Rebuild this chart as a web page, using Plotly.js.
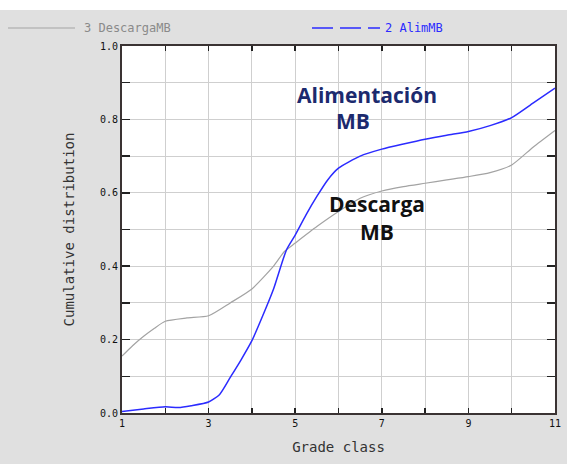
<!DOCTYPE html>
<html>
<head>
<meta charset="utf-8">
<script src="https://cdn.plot.ly/plotly-3.0.1.min.js"></script>
<style>html,body{margin:0;padding:0;background:#fff;}#chart{width:567px;height:464px;}</style>
</head>
<body>
<div id="chart"></div>
<script>
// ---- data ----
const descargaX = [1, 1.25, 1.5, 1.75, 2, 2.5, 3, 3.5, 4, 4.5, 4.75, 5, 5.5, 6, 6.5, 7, 7.5, 8, 8.5, 9, 9.5, 10, 10.5, 11];
const descargaY = [0.155, 0.184, 0.209, 0.231, 0.25, 0.259, 0.265, 0.30, 0.338, 0.400, 0.44, 0.463, 0.508, 0.549, 0.585, 0.605, 0.617, 0.626, 0.635, 0.644, 0.655, 0.676, 0.725, 0.77];
const alimX = [1, 1.5, 2, 2.3, 2.6, 3, 3.25, 3.5, 3.75, 4, 4.25, 4.5, 4.8, 5, 5.25, 5.5, 5.75, 6, 6.5, 7, 7.5, 8, 8.5, 9, 9.5, 10, 10.5, 11];
const alimY = [0.004, 0.011, 0.017, 0.015, 0.02, 0.03, 0.05, 0.097, 0.145, 0.197, 0.265, 0.338, 0.445, 0.485, 0.54, 0.59, 0.635, 0.667, 0.70, 0.719, 0.733, 0.746, 0.757, 0.767, 0.783, 0.805, 0.845, 0.885];
const xTickVals = [1, 2, 3, 4, 5, 6, 7, 8, 9, 10, 11];
const xTickText = ['1', '', '3', '', '5', '', '7', '', '9', '', '11'];
const yTickVals = [0, 0.1, 0.2, 0.3, 0.4, 0.5, 0.6, 0.7, 0.8, 0.9, 1.0];
const yTickText = ['0.0', '', '0.2', '', '0.4', '', '0.6', '', '0.8', '', '1.0'];
const legendNames = ['3 DescargaMB', '2 AlimMB'];

// ---- layout geometry ----
const W = 567, H = 464, L = 122, R = 12, T = 46, B = 51;
const PW = W - L - R, PH = H - T - B;
const px = x => (x - L) / PW;
const py = y => (H - B - y) / PH;

const mono = 'DejaVu Sans Mono, monospace';
const sans = 'Open Sans, Lato, sans-serif';

const traces = [
  {x: descargaX, y: descargaY, type: 'scatter', mode: 'lines', name: legendNames[0],
   line: {color: '#a3a3a3', width: 1.2, shape: 'spline', smoothing: 0.6}, showlegend: false},
  {x: alimX, y: alimY, type: 'scatter', mode: 'lines', name: legendNames[1],
   line: {color: '#2b2bff', width: 1.5, shape: 'spline', smoothing: 0.6}, showlegend: false}
];

const layout = {
  width: W, height: H,
  margin: {l: L, r: R, t: T, b: B, pad: 0},
  paper_bgcolor: '#e0e0e0',
  plot_bgcolor: '#ffffff',
  showlegend: false,
  xaxis: {
    range: [1, 11], tickmode: 'array', tickvals: xTickVals, ticktext: xTickText,
    ticks: 'inside', ticklen: 5, tickcolor: '#222', tickwidth: 1.5,
    showline: true, linecolor: '#3a3333', linewidth: 2, mirror: 'ticks',
    showgrid: true, gridcolor: '#cfcfcf', gridwidth: 1, zeroline: false,
    tickfont: {family: mono, size: 10, color: '#111'},
    title: {text: 'Grade class', font: {family: mono, size: 14, color: '#333'}, standoff: 14}
  },
  yaxis: {
    range: [0, 1], tickmode: 'array', tickvals: yTickVals, ticktext: yTickText,
    ticks: 'inside', ticklen: 8, tickcolor: '#222', tickwidth: 1.5,
    showline: true, linecolor: '#3a3333', linewidth: 2, mirror: 'ticks',
    showgrid: true, gridcolor: '#cfcfcf', gridwidth: 1, zeroline: false,
    tickfont: {family: mono, size: 10, color: '#111'},
    title: {text: 'Cumulative distribution', font: {family: mono, size: 14, color: '#333'}, standoff: 22}
  },
  shapes: [
    {type: 'rect', xref: 'paper', yref: 'paper', x0: px(-5), x1: px(W + 5), y0: py(10), y1: py(-5),
     fillcolor: '#ffffff', line: {width: 0}, layer: 'below'},
    {type: 'line', xref: 'paper', yref: 'paper', x0: px(8), x1: px(75), y0: py(28), y1: py(28),
     line: {color: '#a3a3a3', width: 1.2}},
    {type: 'line', xref: 'paper', yref: 'paper', x0: px(312), x1: px(380), y0: py(28), y1: py(28),
     line: {color: '#2b2bff', width: 1.5, dash: '21px,7px'}}
  ],
  annotations: [
    {xref: 'paper', yref: 'paper', x: px(82), y: py(28), xanchor: 'left', yanchor: 'middle',
     text: legendNames[0], showarrow: false, font: {family: mono, size: 12, color: '#8a8a8a'}},
    {xref: 'paper', yref: 'paper', x: px(383), y: py(28), xanchor: 'left', yanchor: 'middle',
     text: legendNames[1], showarrow: false, font: {family: mono, size: 12, color: '#2b2bff'}},
    {xref: 'x', yref: 'y', x: 6.66, y: 0.866, text: '<b>Alimentación</b>', showarrow: false,
     font: {family: sans, size: 21, color: '#1c2a6e'}},
    {xref: 'x', yref: 'y', x: 6.33, y: 0.796, text: '<b>MB</b>', showarrow: false,
     font: {family: sans, size: 21, color: '#1c2a6e'}},
    {xref: 'x', yref: 'y', x: 6.89, y: 0.569, text: '<b>Descarga</b>', showarrow: false,
     font: {family: sans, size: 21, color: '#111111'}},
    {xref: 'x', yref: 'y', x: 6.9, y: 0.493, text: '<b>MB</b>', showarrow: false,
     font: {family: sans, size: 21, color: '#111111'}}
  ]
};

Plotly.newPlot('chart', traces, layout, {displayModeBar: false, staticPlot: true});
</script>
</body>
</html>
